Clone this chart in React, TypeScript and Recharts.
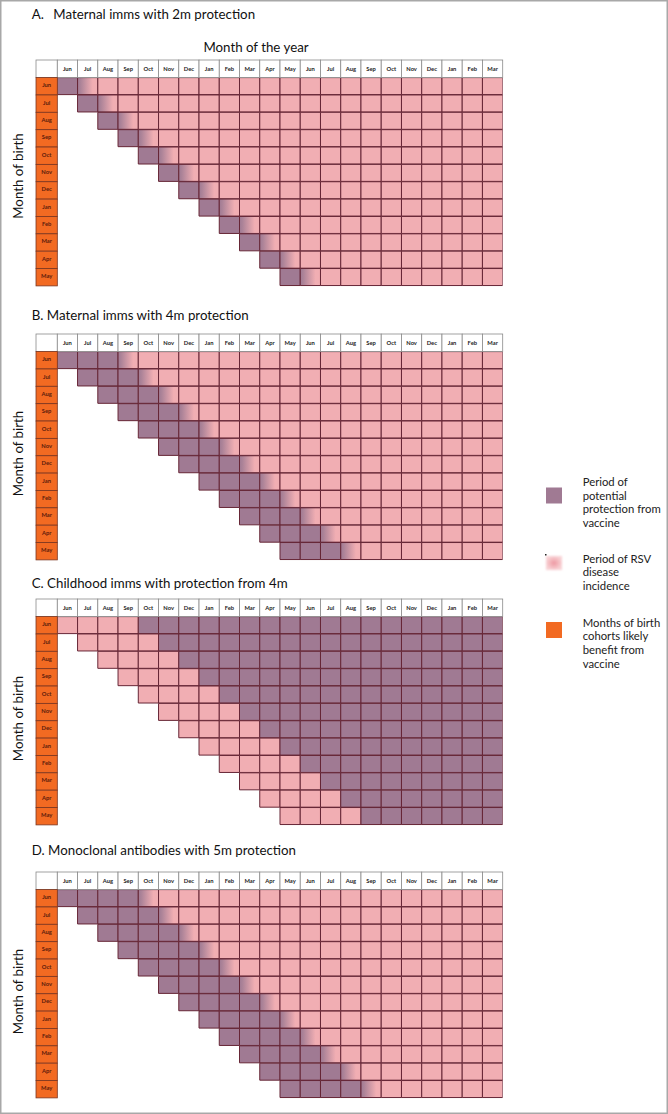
import React from "react";
import { BarChart, Bar, XAxis, YAxis, Cell } from "recharts";

// month-of-the-year columns (Jun year 1 .. Mar year 3)
const yearMonths = [
  "Jun", "Jul", "Aug", "Sep", "Oct", "Nov", "Dec", "Jan", "Feb", "Mar", "Apr",
  "May", "Jun", "Jul", "Aug", "Sep", "Oct", "Nov", "Dec", "Jan", "Feb", "Mar",
];
// month of birth rows
const birthMonths = ["Jun", "Jul", "Aug", "Sep", "Oct", "Nov", "Dec", "Jan", "Feb", "Mar", "Apr", "May"];

const panelLetters = ["A.", "B.", "C.", "D."];
const panelTitles = [
  "Maternal imms with 2m protection",
  "Maternal imms with 4m protection",
  "Childhood imms with protection from 4m",
  "Monoclonal antibodies with 5m protection",
];
// months after birth with RSV risk before any protection
const unprotectedMonths = [0, 0, 4, 0];
// months of full protection, then months where it wears off
const protectedMonths = [1, 3, Infinity, 4];
const fadingMonths = [1, 1, 0, 1];

const legendLabels = [
  ["Period of", "potential", "protection from", "vaccine"],
  ["Period of RSV", "disease", "incidence"],
  ["Months of birth", "cohorts likely", "benefit from", "vaccine"],
];

const PURPLE = "#a07a93";
const PINK = "#f1aeb3";
const ORANGE = "#f26a22";
const GRID = "#652535";
const FONT = "Lato, 'Open Sans', sans-serif";

const W = 668;
const LEFT = 36;
const LABEL_W = 21.3;
const RIGHT = 165.3;
const HEAD_H = 17.6;
const BODY_H = 208.3;
const COL_W = (W - LEFT - LABEL_W - RIGHT) / yearMonths.length;
const ROW_H = BODY_H / birthMonths.length;
const headerTops = [60.3, 333.7, 598.7, 871.7];

function cellKind(p: number, row: number, col: number) {
  const k = col - row;
  if (k < 0) return "none";
  if (k < unprotectedMonths[p]) return "rsv";
  const k2 = k - unprotectedMonths[p];
  if (k2 < protectedMonths[p]) return "vax";
  if (k2 < protectedMonths[p] + fadingMonths[p]) return "fade";
  return "rsv";
}

const rows = birthMonths.map((b) => {
  const r: any = { birth: b };
  yearMonths.forEach((_, j) => (r["c" + j] = 1));
  return r;
});

const HeaderTick = (props: any) => {
  const { x, y, payload } = props;
  const label = yearMonths[Math.floor(payload.value)];
  return (
    <g>
      {payload.value < 1 && (
        <rect x={x - COL_W / 2 - LABEL_W} y={y - HEAD_H} width={LABEL_W} height={HEAD_H} fill="#fff" stroke="#8a8a8a" strokeWidth={0.8} />
      )}
      <rect x={x - COL_W / 2} y={y - HEAD_H} width={COL_W} height={HEAD_H} fill="#fff" stroke="#8a8a8a" strokeWidth={0.8} />
      <text x={x} y={y - HEAD_H / 2 + 2} textAnchor="middle" fontSize={5.8} fontWeight={700} fontFamily={FONT} fill="#222">
        {label}
      </text>
    </g>
  );
};

const BirthTick = (props: any) => {
  const { x, y, payload } = props;
  return (
    <g>
      <rect x={x - LABEL_W} y={y - ROW_H / 2} width={LABEL_W} height={ROW_H} fill={ORANGE} stroke="#7a3520" strokeWidth={0.8} />
      <text x={x - LABEL_W / 2} y={y + 1} textAnchor="middle" fontSize={5.8} fontWeight={700} fontFamily={FONT} fill="#5a1a0c">
        {payload.value}
      </text>
    </g>
  );
};

function Panel({ p }: { p: number }) {
  const fadeId = "fade" + p;
  return (
    <div style={{ position: "absolute", left: 0, top: headerTops[p] - 1 }}>
      <BarChart
        width={W}
        height={HEAD_H + BODY_H + 2}
        data={rows}
        layout="vertical"
        margin={{ top: 1, right: RIGHT, bottom: 1, left: LEFT }}
        barCategoryGap="0%"
        barGap={0}
      >
        <defs>
          <linearGradient id={fadeId} x1="0" y1="0" x2="1" y2="0">
            <stop offset="0" stopColor={PURPLE} />
            <stop offset="0.15" stopColor="#ac8398" />
            <stop offset="0.75" stopColor={PINK} />
          </linearGradient>
        </defs>
        <XAxis
          type="number"
          domain={[0, yearMonths.length]}
          ticks={yearMonths.map((_, j) => j + 0.5)}
          interval={0}
          orientation="top"
          height={HEAD_H}
          axisLine={false}
          tickLine={false}
          tickSize={0}
          tickMargin={0}
          allowDataOverflow
          tick={(t: any) => <HeaderTick {...t} />}
        />
        <YAxis
          type="category"
          dataKey="birth"
          width={LABEL_W}
          axisLine={false}
          tickLine={false}
          tickSize={0}
          tickMargin={0}
          interval={0}
          tick={(t: any) => <BirthTick {...t} />}
        />
        {yearMonths.map((_, j) => (
          <Bar key={j} dataKey={"c" + j} stackId="s" isAnimationActive={false}>
            {birthMonths.map((__, i) => {
              const kind = cellKind(p, i, j);
              const fill =
                kind === "none" ? "transparent" : kind === "vax" ? PURPLE : kind === "fade" ? `url(#${fadeId})` : PINK;
              return <Cell key={i} fill={fill} stroke={kind === "none" ? "none" : GRID} strokeWidth={1} />;
            })}
          </Bar>
        ))}
      </BarChart>
    </div>
  );
}

const titleBase = [19, 319.5, 587.7, 855];
const legendSwatchTop = [487.5, 556, 622];
const legendTextTop = [485.7, 562.5, 626.5];

export default function App() {
  return (
    <div style={{ position: "absolute", left: 0, top: 0, width: W, height: 1114, background: "#fff", overflow: "hidden" }}>
      {panelTitles.map((_, p) => (
        <Panel key={p} p={p} />
      ))}
      <svg width={W} height={1114} style={{ position: "absolute", left: 0, top: 0, pointerEvents: "none" }} fontFamily={FONT}>
        <defs>
          <radialGradient id="rsvSwatch">
            <stop offset="0" stopColor="#ee98a1" />
            <stop offset="1" stopColor="#f8d2d5" />
          </radialGradient>
          <filter id="soft" x="-30%" y="-30%" width="160%" height="160%">
            <feGaussianBlur stdDeviation="1.2" />
          </filter>
        </defs>
        <rect x={0.75} y={0.75} width={W - 1.5} height={1114 - 1.5} fill="none" stroke="#a8a8a8" strokeWidth={1.5} />
        {panelTitles.map((t, p) =>
          p === 0 ? (
            <text key={p} y={titleBase[p]} fontSize={13.3} fill="#111">
              <tspan x={31.7}>{panelLetters[p]}</tspan>
              <tspan x={53.3}>{t}</tspan>
            </text>
          ) : (
            <text key={p} x={31.7} y={titleBase[p]} fontSize={13.3} fill="#111">
              {panelLetters[p] + " " + t}
            </text>
          )
        )}
        <text x={256} y={52} textAnchor="middle" fontSize={13.3} fill="#111">
          Month of the year
        </text>
        {headerTops.map((h, p) => {
          const cy = h + HEAD_H + BODY_H / 2 - (p === 0 ? 6 : 2);
          return (
            <text key={p} x={23.5} y={cy} transform={`rotate(-90 23.5 ${cy})`} textAnchor="middle" fontSize={13.3} fill="#111">
              Month of birth
            </text>
          );
        })}
        <rect x={546} y={legendSwatchTop[0]} width={16} height={16} fill={PURPLE} />
        <rect x={546} y={legendSwatchTop[1]} width={16} height={14} fill="url(#rsvSwatch)" filter="url(#soft)" />
        <rect x={545} y={legendSwatchTop[1] - 2} width={1.5} height={1.5} fill="#222" />
        <rect x={546} y={legendSwatchTop[2]} width={16} height={16} fill={ORANGE} />
        {legendLabels.map((lines, k) => (
          <text key={k} fontSize={11.3} fill="#222">
            {lines.map((l, m) => (
              <tspan key={m} x={582.7} y={legendTextTop[k] + m * 13.8}>
                {l}
              </tspan>
            ))}
          </text>
        ))}
      </svg>
    </div>
  );
}
